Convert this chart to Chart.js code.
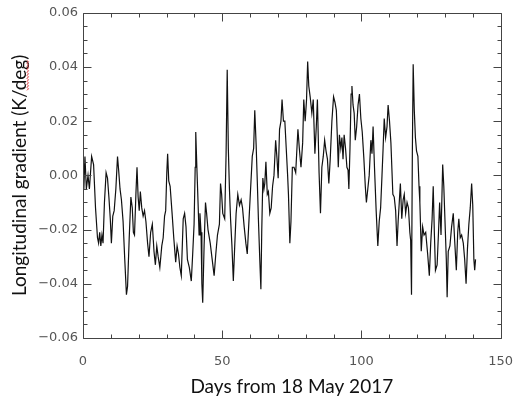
<!DOCTYPE html>
<html><head><meta charset="utf-8">
<script src="https://cdn.jsdelivr.net/npm/chart.js@4/dist/chart.umd.min.js"></script>
<style>html,body{margin:0;padding:0;background:#fff;}</style>
</head><body>
<canvas id="c" width="529" height="400"></canvas>
<script>
// Days from 18 May 2017
const days = [
0.0,0.3,0.7,1.2,1.8,2.3,3.1,3.8,4.5,5.2,5.6,6.0,6.4,6.8,7.2,7.7,8.3,8.8,9.3,9.8,
10.2,10.7,11.2,11.8,12.4,12.8,13.3,13.8,14.4,15.0,15.6,16.0,16.6,17.2,17.7,18.1,18.5,19.0,19.4,19.8,
20.2,20.6,21.1,21.6,22.1,22.6,23.2,23.7,24.3,24.9,25.5,26.0,26.5,27.0,27.6,28.3,28.8,29.3,29.7,
30.1,30.4,30.8,31.3,32.0,32.6,33.3,33.8,34.3,34.8,35.3,35.7,36.0,36.5,37.0,37.5,38.2,38.9,39.4,39.9,
40.3,40.5,40.9,41.2,41.7,42.0,42.4,42.7,43.0,43.5,44.0,44.4,44.9,45.7,46.4,47.1,47.7,48.3,49.0,49.4,49.8,
50.2,50.9,51.4,51.8,52.2,52.6,53.0,53.5,54.0,54.5,55.0,55.6,56.2,56.8,57.3,57.9,58.5,59.0,59.5,
60.0,60.8,61.3,61.7,62.2,62.6,63.0,63.5,63.9,64.2,64.6,65.0,65.3,65.7,66.2,66.6,67.1,67.6,68.1,68.6,69.2,69.7,
70.1,70.6,71.1,71.5,72.0,72.5,73.0,73.5,73.8,74.3,74.7,75.2,75.8,76.4,77.2,77.7,78.3,78.9,79.3,79.8,
80.3,80.7,81.1,81.6,82.2,82.7,83.3,83.8,84.2,84.8,85.3,85.8,86.3,86.8,87.3,87.8,88.3,88.8,89.4,
90.0,90.5,91.0,91.4,91.7,92.1,92.6,93.0,93.4,93.8,94.3,94.8,95.2,95.5,95.9,96.3,96.6,97.0,97.4,97.8,98.3,98.8,99.3,99.8,
100.3,100.9,101.4,101.8,102.3,102.8,103.4,103.8,104.2,104.7,105.3,105.9,106.4,106.9,107.4,107.8,108.2,108.7,109.2,109.6,
110.1,110.6,111.3,111.8,112.3,112.8,113.2,113.6,114.0,114.5,115.0,115.4,115.9,116.4,116.9,117.4,117.7,118.0,118.3,118.6,119.0,119.4,119.8,
120.3,120.7,121.0,121.5,122.0,122.5,123.1,123.8,124.4,124.9,125.4,125.8,126.2,126.6,127.2,127.7,128.1,128.6,129.2,129.6,
130.0,130.5,130.8,131.2,131.8,132.4,133.0,133.5,134.1,134.6,135.0,135.5,136.0,136.6,137.1,137.6,138.1,138.6,139.1,139.6,
140.0,140.4,140.7,141.0
];
// Longitudinal gradient (K/deg)
const gradient = [
0.004,-0.005,0.007,-0.005,0.000,-0.005,0.007,0.004,-0.012,-0.023,-0.025,-0.021,-0.026,-0.022,-0.025,-0.010,0.001,-0.001,-0.008,-0.016,
-0.025,-0.015,-0.013,-0.005,0.007,0.002,-0.005,-0.009,-0.017,-0.031,-0.044,-0.041,-0.023,-0.008,-0.012,-0.021,-0.022,-0.007,0.003,-0.008,
-0.013,-0.006,-0.012,-0.015,-0.013,-0.017,-0.025,-0.030,-0.021,-0.018,-0.028,-0.033,-0.026,-0.030,-0.034,-0.026,-0.023,-0.015,-0.013,
0.001,0.008,-0.002,-0.004,-0.014,-0.023,-0.032,-0.026,-0.029,-0.034,-0.037,-0.025,-0.016,-0.014,-0.019,-0.031,-0.034,-0.039,-0.029,-0.018,
0.003,0.016,0.003,-0.006,-0.022,-0.014,-0.021,-0.040,-0.047,-0.026,-0.010,-0.014,-0.020,-0.025,-0.031,-0.037,-0.029,-0.022,-0.018,-0.003,-0.007,
-0.014,-0.016,0.008,0.039,0.010,-0.005,-0.016,-0.026,-0.039,-0.026,-0.014,-0.007,-0.011,-0.009,-0.012,-0.019,-0.025,-0.029,-0.019,
-0.009,0.007,0.010,0.024,0.011,-0.002,-0.016,-0.031,-0.042,-0.021,-0.001,-0.005,-0.003,0.005,-0.007,-0.006,-0.014,-0.012,-0.004,0.000,0.013,0.006,
-0.001,0.017,0.020,0.028,0.020,0.020,0.010,0.000,-0.007,-0.025,-0.017,0.003,0.003,0.001,0.017,0.010,0.003,0.012,0.028,0.020,
0.028,0.042,0.033,0.029,0.023,0.028,0.008,0.018,0.028,0.001,-0.014,0.003,0.007,0.013,0.009,0.006,-0.003,0.006,0.020,
0.029,0.027,0.024,0.013,0.003,0.015,0.010,0.014,0.006,0.015,0.010,0.003,0.002,-0.005,0.010,0.030,0.033,0.026,0.023,0.013,0.018,0.026,0.030,0.021,
0.016,0.006,-0.004,-0.010,-0.005,0.000,0.013,0.008,0.018,0.003,-0.013,-0.026,-0.017,-0.012,0.000,0.010,0.021,0.014,0.018,0.026,
0.020,0.012,-0.007,-0.008,-0.013,-0.026,-0.017,-0.010,-0.003,-0.016,-0.009,-0.007,-0.014,-0.010,-0.012,-0.021,-0.024,-0.044,0.008,0.041,0.024,0.014,0.009,
0.007,-0.004,-0.010,-0.028,-0.019,-0.022,-0.021,-0.029,-0.037,-0.025,-0.016,-0.004,-0.021,-0.035,-0.033,-0.021,-0.010,-0.022,0.004,-0.004,
-0.016,-0.031,-0.045,-0.028,-0.026,-0.019,-0.014,-0.024,-0.035,-0.021,-0.016,-0.023,-0.022,-0.025,-0.031,-0.040,-0.027,-0.018,-0.012,-0.003,
-0.011,-0.031,-0.035,-0.031
];
const xRange = [0, 150];
const xStep = 50;
const xMinorStep = 10;
const yRange = [-0.06, 0.06];
const yStep = 0.02;
const yMinorStep = 0.005;
const xTitle = 'Days from 18 May 2017';
const yTitle = 'Longitudinal gradient (K/deg)';

const points = days.map((d, i) => ({x: d, y: gradient[i]}));

const frameTicks = {
  id: 'frameTicks',
  afterDraw(chart) {
    const {ctx, chartArea: a, scales: {x, y}} = chart;
    ctx.save();
    ctx.strokeStyle = '#444';
    ctx.lineWidth = 1;
    ctx.beginPath();
    const L = Math.round(a.left) + 0.5, R = Math.round(a.right) + 0.5;
    const T = Math.round(a.top) + 0.5, B = Math.round(a.bottom) + 0.5;
    ctx.rect(L, T, R - L, B - T);
    // x ticks (bottom and top)
    const nx = Math.round((xRange[1] - xRange[0]) / xMinorStep);
    for (let i = 0; i <= nx; i++) {
      const v = xRange[0] + i * xMinorStep;
      const px = Math.round(x.getPixelForValue(v)) + 0.5;
      const len = (i % Math.round(xStep / xMinorStep) === 0) ? 8 : 4;
      ctx.moveTo(px, B); ctx.lineTo(px, B - len);
      ctx.moveTo(px, T); ctx.lineTo(px, T + len);
    }
    const ny = Math.round((yRange[1] - yRange[0]) / yMinorStep);
    for (let j = 0; j <= ny; j++) {
      const v = yRange[0] + j * yMinorStep;
      const py = Math.round(y.getPixelForValue(v)) + 0.5;
      const len = (j % Math.round(yStep / yMinorStep) === 0) ? 8 : 4;
      ctx.moveTo(L, py); ctx.lineTo(L + len, py);
      ctx.moveTo(R, py); ctx.lineTo(R - len, py);
    }
    ctx.stroke();

    // red spell-check squiggle under "deg" of the y title
    const font = '19px Lato';
    ctx.font = font;
    const W = ctx.measureText(yTitle).width;
    const wEnd = ctx.measureText(')').width;
    const wDeg = ctx.measureText('deg)').width;
    const xc = 19, yc = (a.top + a.bottom) / 2;
    ctx.translate(xc, yc);
    ctx.rotate(-Math.PI / 2);
    const s = W / 2 - wDeg, e = W / 2 - wEnd;
    ctx.strokeStyle = '#e0393e';
    ctx.lineWidth = 1;
    ctx.beginPath();
    let k = 0;
    for (let t = s; t <= e; t += 1.5, k++) {
      const yy = 8 + (k % 2 === 0 ? 0 : 1.5);
      if (k === 0) ctx.moveTo(t, yy); else ctx.lineTo(t, yy);
    }
    ctx.stroke();
    ctx.restore();
  }
};

const fmt = v => {
  if (Math.abs(v) < 1e-9) v = 0;
  const s = Math.abs(v).toFixed(2);
  return v < 0 ? '\u2212' + s : s;
};

new Chart(document.getElementById('c'), {
  type: 'line',
  data: {
    datasets: [{
      data: points,
      borderColor: '#111',
      borderWidth: 1.2,
      pointRadius: 0,
      tension: 0,
      fill: false
    }]
  },
  options: {
    responsive: false,
    devicePixelRatio: 1,
    animation: false,
    layout: {padding: {top: 7, right: 14, left: 0, bottom: 0}},
    plugins: {legend: {display: false}, tooltip: {enabled: false}},
    scales: {
      x: {
        type: 'linear',
        min: xRange[0], max: xRange[1],
        grid: {display: false, drawTicks: false},
        border: {display: false},
        ticks: {stepSize: xStep, padding: 16, color: '#555', font: {family: 'DejaVu Sans', size: 13}, maxRotation: 0,
          callback: v => String(v)},
        title: {display: true, text: xTitle, color: '#111', font: {family: 'Lato', size: 19}, padding: {top: 0, bottom: 2}},
        afterFit: s => { s.height = 62; }
      },
      y: {
        type: 'linear',
        min: yRange[0], max: yRange[1],
        grid: {display: false, drawTicks: false},
        border: {display: false},
        ticks: {stepSize: yStep, padding: 5, color: '#555', font: {family: 'DejaVu Sans', size: 13},
          callback: v => fmt(v)},
        title: {display: true, text: yTitle, color: '#111', font: {family: 'Lato', size: 19}, padding: {top: 8, bottom: 0}},
        afterFit: s => { s.width = 83; }
      }
    }
  },
  plugins: [frameTicks]
});
</script>
</body></html>
